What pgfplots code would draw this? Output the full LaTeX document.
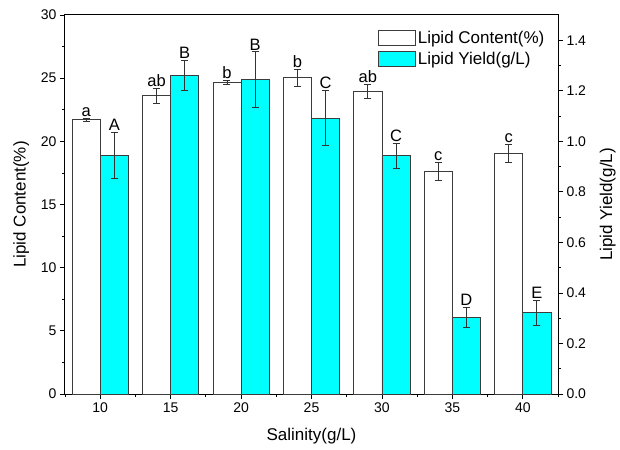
\documentclass[border=0pt]{standalone}
\usepackage{fontspec}
\setmainfont{Liberation Sans}
\usepackage{pgfplots}
\usepackage{pgfplotstable}
\pgfplotsset{compat=1.18}
\definecolor{cyanbar}{RGB}{0,255,255}
\definecolor{edge}{RGB}{60,60,60}

\pgfplotstableread{
x  c      ce    lc  y      ye    ly
10 21.70  0.10  a   0.945  0.090 A
15 23.60  0.60  ab  1.262  0.060 B
20 24.65  0.18  b   1.244  0.110 B
25 25.05  0.68  b   1.092  0.110 C
30 23.95  0.58  ab  0.943  0.050 C
35 17.60  0.72  c   0.302  0.040 D
40 19.05  0.72  c   0.322  0.050 E
}\data

\pgfplotsset{
 boxlegend/.style={legend image code/.code={\draw[##1] (0pt,-7pt) rectangle (37pt,8pt);}},
}

\begin{document}
\begin{tikzpicture}
\pgfplotsset{
 base/.style={
  scale only axis, width=493pt, height=379pt,
  xmin=7.5, xmax=42.5,
  xtick={10,15,20,25,30,35,40},
  minor xtick={7.5,12.5,17.5,22.5,27.5,32.5,37.5,42.5},
  tick align=outside,
  major tick length=5pt, minor tick length=3pt,
  every tick/.style={black, line width=0.8pt},
  /pgf/number format/assume math mode=true,
  tick label style={font=\fontsize{14}{16}\selectfont},
  label style={font=\fontsize{17}{20}\selectfont},
  axis line style={line width=1pt},
  clip=false,
 },
 errs/.style={error bars/.cd, y dir=both, y explicit,
  error bar style={line width=0.8pt, black!80},
  error mark options={rotate=90, mark size=3.5pt, line width=0.8pt, black!80}},
 letters/.style={draw=none, mark=none, nodes near coords, point meta=explicit symbolic,
  nodes near coords style={anchor=south, inner sep=1.5pt, font=\fontsize{16.5}{19}\selectfont, black}},
}
\begin{axis}[base, name=ax,
  ymin=0, ymax=30, ytick={0,5,10,15,20,25,30}, minor y tick num=1,
  xtick pos=bottom, ytick pos=left,
  xlabel={Salinity(g/L)}, ylabel={Lipid Content(\%)},
  xlabel style={yshift=-9pt}, ylabel style={yshift=5pt},
]
\addplot[ybar, bar width=2, bar shift=0, fill=white, draw=edge, line width=0.8pt, errs]
  table[x expr=\thisrow{x}-1, y=c, y error=ce]{\data};
\addplot[letters] table[x expr=\thisrow{x}-1, y expr=\thisrow{c}+\thisrow{ce}, meta=lc]{\data};
\end{axis}
\begin{axis}[base,
  ymin=0, ymax=1.5, ytick={0,0.2,0.4,0.6,0.8,1.0,1.2,1.4}, minor y tick num=1,
  axis y line*=right, axis x line=none,
  ylabel={Lipid Yield(g/L)},
  ylabel style={yshift=-7pt},
  yticklabel style={/pgf/number format/.cd, fixed, fixed zerofill, precision=1},
  legend style={at={(rel axis cs:0.983,0.968)}, anchor=north east, draw=none, fill=none,
    font=\fontsize{17}{20}\selectfont, row sep=3pt, cells={anchor=west}},
]
\addlegendimage{fill=white, draw=edge, line width=0.8pt, boxlegend}
\addlegendentry{Lipid Content(\%)}
\addplot[ybar, bar width=2, bar shift=0, fill=cyanbar, draw=edge, line width=0.8pt, boxlegend, errs]
  table[x expr=\thisrow{x}+1, y=y, y error=ye]{\data};
\addlegendentry{Lipid Yield(g/L)}
\addplot[letters, forget plot] table[x expr=\thisrow{x}+1, y expr=\thisrow{y}+\thisrow{ye}, meta=ly]{\data};
\end{axis}
\path (ax.south west) ++(-65pt,-55pt) rectangle ++(620pt,449pt);
\end{tikzpicture}
\end{document}
